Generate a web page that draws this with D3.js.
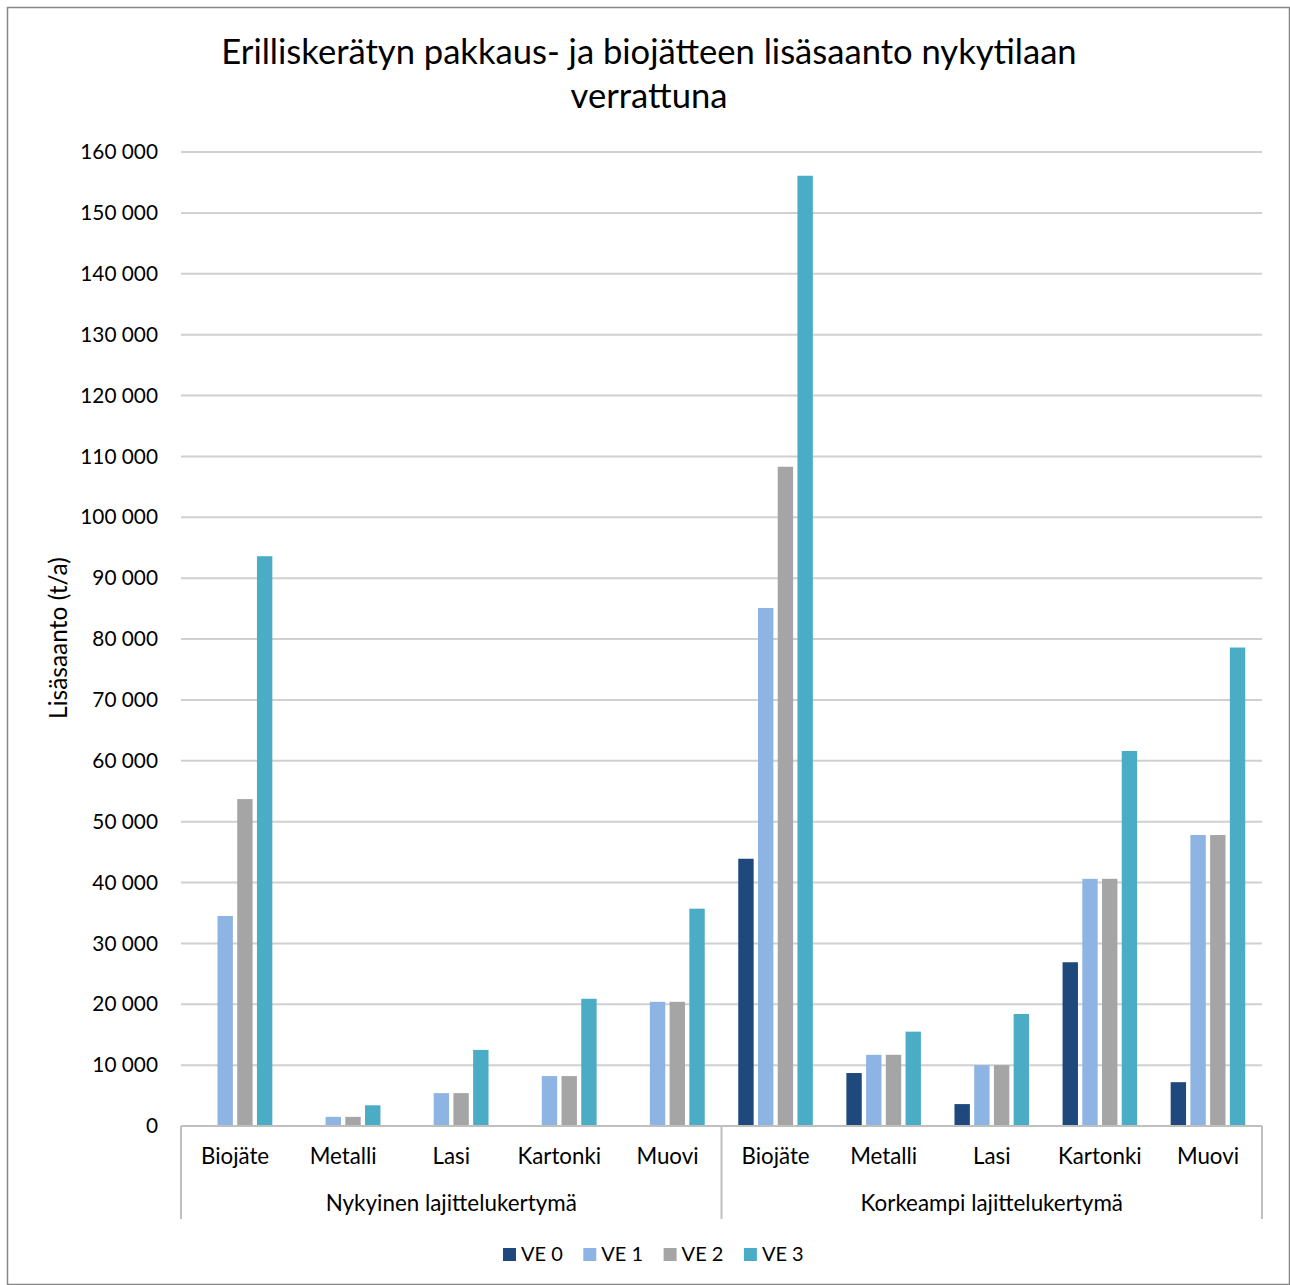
<!DOCTYPE html>
<html><head><meta charset="utf-8">
<script src="https://cdn.jsdelivr.net/npm/d3@7"></script>
<style>body{margin:0;background:#fff}svg{display:block}text{font-family:Lato,"Open Sans",sans-serif;fill:#000}</style>
</head><body>
<script>
const title = ["Erilliskerätyn pakkaus- ja biojätteen lisäsaanto nykytilaan", "verrattuna"];
const yLabel = "Lisäsaanto (t/a)";
const groups = ["Nykyinen lajittelukertymä", "Korkeampi lajittelukertymä"];
const categories = ["Biojäte", "Metalli", "Lasi", "Kartonki", "Muovi"];
const seriesNames = ["VE 0", "VE 1", "VE 2", "VE 3"];
const colors = ["#1F497D", "#8EB4E3", "#A5A5A5", "#4BACC6"];
// values per group, per category: [VE0, VE1, VE2, VE3]
const nykyinen = [
  [0, 34500, 53700, 93600],
  [0, 1500, 1500, 3400],
  [0, 5400, 5400, 12500],
  [0, 8200, 8200, 20900],
  [0, 20400, 20400, 35700]
];
const korkeampi = [
  [43900, 85100, 108300, 156100],
  [8700, 11700, 11700, 15500],
  [3600, 10000, 10000, 18400],
  [26900, 40600, 40600, 61600],
  [7200, 47800, 47800, 78600]
];
const yTicks = d3.range(0, 160001, 10000);

const W = 1290, H = 1285;
const svg = d3.select("body").append("svg").attr("width", W).attr("height", H);
svg.append("rect").attr("x", 7.5).attr("y", 7.5).attr("width", W - 8).attr("height", H - 8)
  .attr("fill", "#fff").attr("stroke", "#868686").attr("stroke-width", 1.5);

const plot = {l: 181, r: 1262, t: 152, b: 1126};
const y = d3.scaleLinear().domain([0, 160000]).range([plot.b, plot.t]);
const rows = [];
[nykyinen, korkeampi].forEach((g, gi) => g.forEach((vals, ci) => rows.push({gi, ci, key: gi + "-" + ci, cat: categories[ci], vals})));
const x0 = d3.scaleBand().domain(rows.map(d => d.key)).range([plot.l, plot.r]).paddingInner(0).paddingOuter(0);
const x1 = d3.scaleBand().domain(seriesNames).range([0, x0.bandwidth()]).paddingInner(0.22).paddingOuter(0.85);

// title
svg.append("text").attr("x", 649).attr("y", 64).attr("text-anchor", "middle").style("font-size", "34.6px").text(title[0]);
svg.append("text").attr("x", 649).attr("y", 108).attr("text-anchor", "middle").style("font-size", "34.6px").text(title[1]);

// gridlines
svg.append("g").selectAll("line").data(yTicks.filter(t => t > 0)).join("line")
  .attr("x1", plot.l).attr("x2", plot.r).attr("y1", d => y(d)).attr("y2", d => y(d))
  .attr("stroke", "#d0d0d0").attr("stroke-width", 2);

// y axis labels
const yAxis = d3.axisLeft(y).tickValues(yTicks).tickSize(0).tickPadding(0)
  .tickFormat(d => d3.format(",")(d).replace(/,/g, " "));
const ya = svg.append("g").attr("transform", `translate(${158},0)`).call(yAxis);
ya.select(".domain").remove();
ya.selectAll("text").style("font-size", "20.8px").style("font-family", "Lato,'Open Sans',sans-serif").attr("fill", "#000");

svg.append("text").attr("transform", `translate(67,${638}) rotate(-90)`).attr("text-anchor", "middle")
  .style("font-size", "24.5px").text(yLabel);

// bars
const cg = svg.append("g").selectAll("g").data(rows).join("g").attr("transform", d => `translate(${x0(d.key)},0)`);
cg.selectAll("rect").data(d => d.vals.map((v, i) => ({v, s: seriesNames[i], i}))).join("rect")
  .attr("x", d => x1(d.s)).attr("width", x1.bandwidth())
  .attr("y", d => y(d.v)).attr("height", d => y(0) - y(d.v))
  .attr("fill", d => colors[d.i]);

// x axis
svg.append("line").attr("x1", plot.l).attr("x2", plot.r).attr("y1", plot.b).attr("y2", plot.b)
  .attr("stroke", "#bfbfbf").attr("stroke-width", 2);
[plot.l, x0(rows[5].key), plot.r].forEach(xx => svg.append("line").attr("x1", xx).attr("x2", xx)
  .attr("y1", plot.b).attr("y2", 1219).attr("stroke", "#bfbfbf").attr("stroke-width", 2));

svg.append("g").selectAll("text").data(rows).join("text")
  .attr("x", d => x0(d.key) + x0.bandwidth() / 2).attr("y", 1164).attr("text-anchor", "middle")
  .style("font-size", "22.3px").text(d => d.cat);
svg.append("g").selectAll("text").data(groups).join("text")
  .attr("x", (d, i) => x0(rows[i * 5].key) + x0.bandwidth() * 2.5).attr("y", 1211).attr("text-anchor", "middle")
  .style("font-size", "22.4px").text(d => d);

// legend
const lg = svg.append("g").selectAll("g").data(seriesNames).join("g")
  .attr("transform", (d, i) => `translate(${503 + i * 80.3},1248)`);
lg.append("rect").attr("width", 13).attr("height", 13).attr("fill", (d, i) => colors[i]);
lg.append("text").attr("x", 18).attr("y", 13).style("font-size", "20px").text(d => d);
</script>
</body></html>
